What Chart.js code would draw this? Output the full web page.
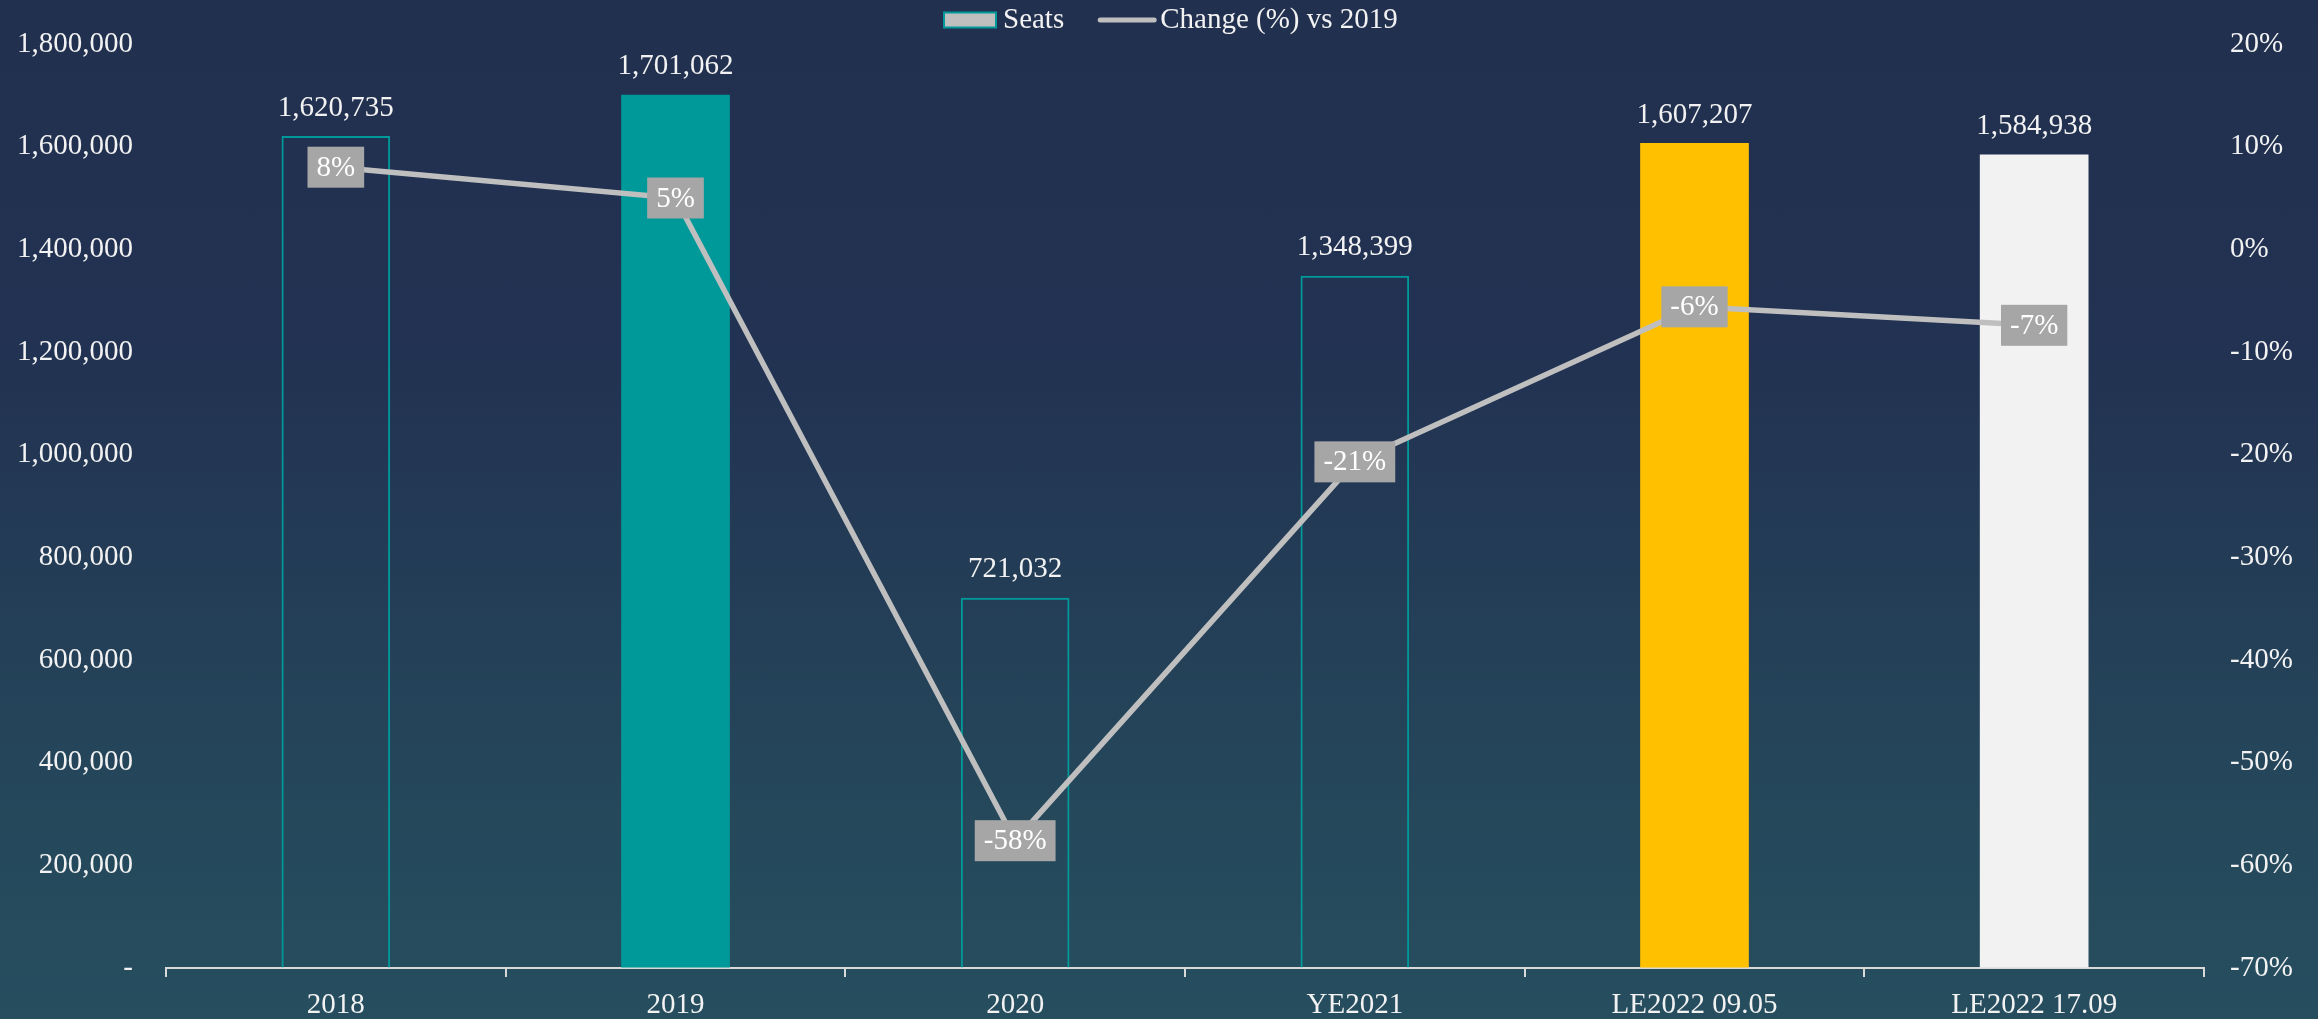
<!DOCTYPE html>
<html>
<head>
<meta charset="utf-8">
<script src="https://cdn.jsdelivr.net/npm/chart.js@4.4.1/dist/chart.umd.min.js"></script>
<style>
  html, body { margin: 0; padding: 0; overflow: hidden; }
  body { background: linear-gradient(to bottom, #22304f 0%, #223252 35%, #25485b 80%, #264e5f 100%); }
  #wrap { width: 2318px; height: 1019px; position: relative; }
</style>
</head>
<body>
<div id="wrap"><canvas id="seatsChart"></canvas></div>
<script>
const categories = ['2018', '2019', '2020', 'YE2021', 'LE2022 09.05', 'LE2022 17.09'];
const seats = [1620735, 1701062, 721032, 1348399, 1607207, 1584938];
const changePct = [8, 5, -57.6, -20.7, -5.6, -7.4];
const seatTicks = [0, 200000, 400000, 600000, 800000, 1000000, 1200000, 1400000, 1600000, 1800000];
const pctTicks = [-70, -60, -50, -40, -30, -20, -10, 0, 10, 20];

const TEAL = '#009999';
const barFill = ['rgba(0,0,0,0)', TEAL, 'rgba(0,0,0,0)', 'rgba(0,0,0,0)', '#ffc000', '#f2f2f2'];
const barBorder = [TEAL, TEAL, TEAL, TEAL, '#ffc000', '#f2f2f2'];
const barBorderW = [2, 0, 2, 2, 0, 0];
const FONT = '"Liberation Serif", "Times New Roman", serif';

Chart.defaults.font.family = FONT;
Chart.defaults.font.size = 29;
Chart.defaults.color = '#f2f2f2';

// value labels above bars + grey boxes on the line points
const labelPlugin = {
    id: 'valueLabels',
    afterDatasetsDraw(chart) {
        const ctx = chart.ctx;
        ctx.save();
        ctx.font = '29px ' + FONT;
        ctx.textAlign = 'center';
        ctx.textBaseline = 'middle';
        chart.getDatasetMeta(0).data.forEach((bar, i) => {
            ctx.fillStyle = '#f2f2f2';
            ctx.fillText(seats[i].toLocaleString('en-US'), bar.x, bar.y - 28);
        });
        chart.getDatasetMeta(1).data.forEach((pt, i) => {
            const txt = Math.round(changePct[i]) + '%';
            const w = ctx.measureText(txt).width + 18;
            const h = 41;
            ctx.fillStyle = '#a6a6a6';
            ctx.fillRect(pt.x - w / 2, pt.y - h / 2, w, h);
            ctx.fillStyle = '#ffffff';
            ctx.fillText(txt, pt.x, pt.y + 1);
        });
        ctx.restore();
    }
};

// simple legend at the top, like the excel one
const legendPlugin = {
    id: 'topLegend',
    afterDraw(chart) {
        const ctx = chart.ctx;
        const names = chart.data.datasets.map(d => d.label);
        const y = 20;
        ctx.save();
        ctx.font = '29px ' + FONT;
        ctx.textBaseline = 'middle';
        ctx.textAlign = 'left';
        let x = 944;
        ctx.fillStyle = '#bfbfbf';
        ctx.fillRect(x, y - 7.5, 52, 15);
        ctx.strokeStyle = TEAL;
        ctx.lineWidth = 2;
        ctx.strokeRect(x, y - 7.5, 52, 15);
        x += 59;
        ctx.fillStyle = '#f2f2f2';
        ctx.fillText(names[0], x, y);
        x += ctx.measureText(names[0]).width + 36;
        ctx.strokeStyle = '#bfbfbf';
        ctx.lineWidth = 5;
        ctx.lineCap = 'round';
        ctx.beginPath();
        ctx.moveTo(x, y);
        ctx.lineTo(x + 54, y);
        ctx.stroke();
        x += 60;
        ctx.fillText(names[1], x, y);
        ctx.restore();
    }
};

const ctx = document.getElementById('seatsChart').getContext('2d');
const seatsChart = new Chart(ctx, {
    data: {
        labels: categories,
        datasets: [{
            type: 'bar',
            label: 'Seats',
            data: seats,
            backgroundColor: barFill,
            borderColor: barBorder,
            borderWidth: barBorderW,
            categoryPercentage: 1,
            barPercentage: 0.32,
            yAxisID: 'y',
            order: 1
        }, {
            type: 'line',
            label: 'Change (%) vs 2019',
            data: changePct,
            borderColor: '#bfbfbf',
            borderWidth: 5.5,
            pointRadius: 0,
            tension: 0,
            yAxisID: 'y1',
            order: 0
        }]
    },
    options: {
        responsive: true,
        maintainAspectRatio: false,
        animation: false,
        events: [],
        layout: { padding: { top: 44, left: 0, right: 0, bottom: 0 } },
        plugins: {
            tooltip: { enabled: false },
            legend: { display: false }
        },
        scales: {
            x: {
                offset: true,
                grid: { display: true, offset: true, drawOnChartArea: false, drawTicks: true, tickLength: 9, color: '#d9d9d9', lineWidth: 2 },
                border: { display: true, color: '#d9d9d9', width: 2 },
                ticks: { color: '#f2f2f2', padding: 11, maxRotation: 0 },
                afterFit(scale) { scale.height = 51; }
            },
            y: {
                position: 'left',
                min: 0,
                max: 1800000,
                // invisible tick marks keep the labels away from the plot
                grid: { display: true, drawOnChartArea: false, drawTicks: true, tickLength: 33, color: 'rgba(0,0,0,0)' },
                border: { display: false },
                afterBuildTicks(scale) { scale.ticks = seatTicks.map(v => ({ value: v })); },
                ticks: {
                    color: '#f2f2f2',
                    padding: 0,
                    callback: v => v === 0 ? '-' : Number(v).toLocaleString('en-US')
                },
                afterFit(scale) { scale.width = 166; }
            },
            y1: {
                position: 'right',
                min: -70,
                max: 20,
                grid: { display: true, drawOnChartArea: false, drawTicks: true, tickLength: 26, color: 'rgba(0,0,0,0)' },
                border: { display: false },
                afterBuildTicks(scale) { scale.ticks = pctTicks.map(v => ({ value: v })); },
                ticks: {
                    color: '#f2f2f2',
                    padding: 0,
                    callback: v => v + '%'
                },
                afterFit(scale) { scale.width = 114; }
            }
        }
    },
    plugins: [labelPlugin, legendPlugin]
});
</script>
</body>
</html>
